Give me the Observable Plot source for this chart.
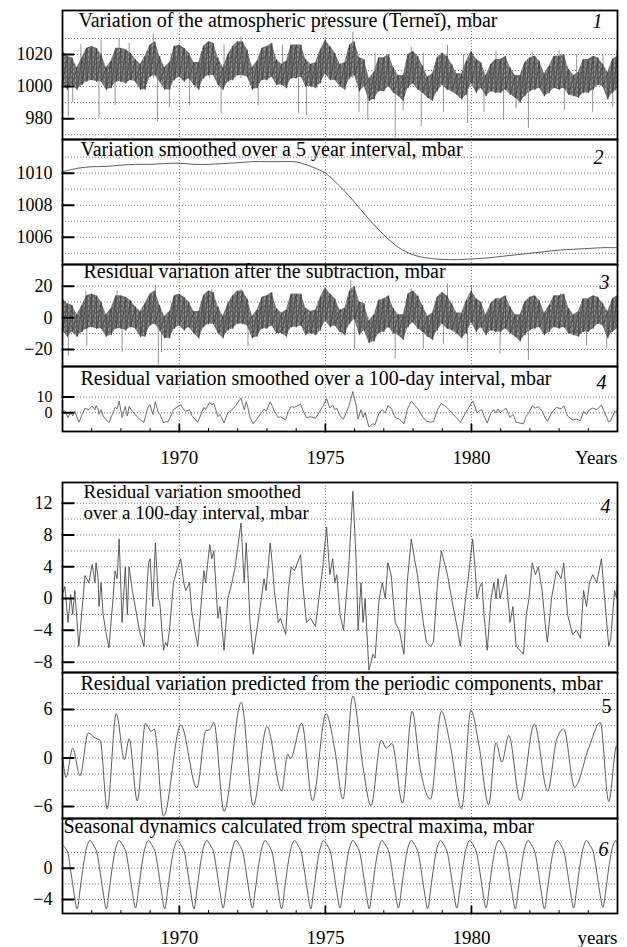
<!DOCTYPE html>
<html><head><meta charset="utf-8">
<script src="https://cdn.jsdelivr.net/npm/d3@7"></script>
<script src="https://cdn.jsdelivr.net/npm/@observablehq/plot@0.6"></script>
<style>
body{margin:0;background:#fff;}
#chart{position:relative;width:627px;height:947px;}
#chart svg{position:absolute;left:0;}
#chart g[aria-label="condensed-title"] text{letter-spacing:-0.75px;}
</style></head><body>
<svg width="0" height="0" style="position:absolute;left:0;top:0"><defs>
<pattern id="streaks" width="11" height="5" patternUnits="userSpaceOnUse">
<rect x="0.5" y="0" width="0.7" height="3" fill="#fff" opacity="0.6"/>
<rect x="2.6" y="2" width="0.6" height="3" fill="#fff" opacity="0.45"/>
<rect x="4.8" y="0.5" width="0.8" height="2.5" fill="#fff" opacity="0.55"/>
<rect x="7.1" y="2.5" width="0.6" height="2.5" fill="#fff" opacity="0.5"/>
<rect x="9.2" y="1" width="0.7" height="3" fill="#fff" opacity="0.45"/>
</pattern></defs></svg>
<div id="chart"></div>
<script>
// ---------- DATA ----------
const xDomain = [1966, 1985];
const minorYears = [1967,1968,1969,1971,1972,1973,1974,1976,1977,1978,1979,1981,1982,1983,1984];
const majorYears = [1970, 1975, 1980];

// Panel 1 & 3: envelope of the daily series (every 2 months)
const bandT = [
1966,1966.17,1966.33,1966.5,1966.67,1966.83,1967,1967.17,1967.33,1967.5,1967.67,1967.83,
1968,1968.17,1968.33,1968.5,1968.67,1968.83,1969,1969.17,1969.33,1969.5,1969.67,1969.83,
1970,1970.17,1970.33,1970.5,1970.67,1970.83,1971,1971.17,1971.33,1971.5,1971.67,1971.83,
1972,1972.17,1972.33,1972.5,1972.67,1972.83,1973,1973.17,1973.33,1973.5,1973.67,1973.83,
1974,1974.17,1974.33,1974.5,1974.67,1974.83,1975,1975.17,1975.33,1975.5,1975.67,1975.83,
1976,1976.17,1976.33,1976.5,1976.67,1976.83,1977,1977.17,1977.33,1977.5,1977.67,1977.83,
1978,1978.17,1978.33,1978.5,1978.67,1978.83,1979,1979.17,1979.33,1979.5,1979.67,1979.83,
1980,1980.17,1980.33,1980.5,1980.67,1980.83,1981,1981.17,1981.33,1981.5,1981.67,1981.83,
1982,1982.17,1982.33,1982.5,1982.67,1982.83,1983,1983.17,1983.33,1983.5,1983.67,1983.83,
1984,1984.17,1984.33,1984.5,1984.67,1984.83,1985];
const p1Hi = [
1022,1019,1018,1012,1018,1024, 1025,1024,1020,1012,1016,1024, 1024,1023,1021,1017,1014,1019,
1026,1028,1019,1012,1015,1025, 1026,1024,1021,1015,1015,1025, 1028,1027,1018,1012,1020,1025,
1028,1028,1023,1012,1016,1024, 1025,1027,1017,1014,1016,1026, 1026,1026,1017,1014,1015,1023,
1029,1025,1021,1014,1015,1026, 1028,1018,1017,1005,1009,1018, 1018,1020,1012,1007,1007,1020,
1022,1019,1013,1006,1008,1018, 1021,1019,1014,1008,1008,1016, 1022,1017,1015,1007,1014,1017,
1017,1019,1012,1007,1007,1015, 1018,1019,1016,1008,1013,1019, 1019,1020,1011,1007,1009,1017,
1017,1019,1018,1014,1009,1017, 1019];
const p1Lo = [
1002,998,1001,998,1001,1003, 1004,1003,1003,998,999,1003, 1003,1002,1004,1003,998,998,
1006,1007,1003,998,998,1004, 1006,1003,1005,1001,998,1005, 1007,1007,1001,998,1003,1004,
1007,1007,1006,998,999,1004, 1004,1006,1001,1001,999,1005, 1005,1006,1000,1000,999,1002,
1008,1004,1004,1000,998,1005, 1007,997,1000,991,992,997, 997,1000,996,994,991,999,
1002,998,996,993,991,997, 1001,998,997,995,992,995, 1002,996,999,994,997,996,
996,998,995,993,990,994, 997,998,999,994,996,999, 998,999,995,994,993,996,
996,998,1001,1000,992,996, 998];
const p1SpikeT = [1966.2,1967.25,1969.25,1971.43,1974.08,1974.35,1976.45,1977.39,1978.28,1979.87,1981.1,1981.95,1984.84,
1967.32,1967.94,1969.11,1971.04,1972.11,1975.0,1975.94,1977.94,1979.18,1983.0,1984.5,
1966.63,1968.28,1969.8,1971.53,1973.53,1976.7,1978.35,1979.73,1980.84,1982.08,1983.6,1984.97,
1966.35,1967.8,1969.66,1970.35,1972.7,1976.15,1977.66,1979.04,1980.43,1981.53,1983.18,1984.15];
const p1SpikeV = [981,980,978,983,983,982,979,968,975,977,979,974,987,
1029,1030,1033,1028,1031,1030,1034,1024.6,1025.6,1022.5,1020,
1026,1027,1025,1026,1026,1021,1021,1020,1022,1021,1020,1022,
990,988,987,988,988,984,985,984,984,986,985,984];

// Panel 2: 5-year smoothed pressure
const p2T = [1966,1966.5,1967,1967.5,1968,1968.5,1969,1969.5,1970,1970.5,1971,1971.5,1972,1972.5,1973,1973.5,1974,1974.3,1974.6,1975,1975.4,1975.8,1976.2,1976.6,1977,1977.4,1977.8,1978.2,1978.6,1979,1979.5,1980,1980.5,1981,1981.5,1982,1982.5,1983,1983.5,1984,1984.5,1985];
const p2V = [1010.08,1010.3,1010.4,1010.42,1010.5,1010.55,1010.55,1010.6,1010.62,1010.55,1010.55,1010.6,1010.65,1010.72,1010.72,1010.72,1010.7,1010.55,1010.35,1010.0,1009.35,1008.6,1007.75,1006.9,1006.15,1005.5,1005.05,1004.8,1004.68,1004.62,1004.6,1004.65,1004.7,1004.8,1004.9,1005.0,1005.1,1005.2,1005.25,1005.3,1005.35,1005.35];

// Panel 3: residual envelope
const p3Hi = [
12,9,8,2,8,14, 15,14,10,2,6,14, 14,13,11,7,4,9, 15,17,8,1,4,14, 15,13,10,4,4,14, 17,16,7,1,9,14,
17,17,12,1,5,13, 14,16,6,3,5,15, 15,15,6,4,5,13, 19,15,12,5,6,17, 20,10,9,-2,2,11, 12,14,6,2,2,15,
17,14,8,1,3,13, 16,14,9,3,3,11, 17,12,10,2,9,12, 12,14,7,2,2,10, 13,14,11,3,8,14, 14,15,6,2,4,12,
12,14,13,9,4,12, 14];
const p3Lo = [
-8,-12,-9,-12,-9,-7, -6,-7,-7,-12,-11,-7, -7,-8,-6,-7,-12,-12, -5,-4,-8,-13,-13,-7, -5,-8,-6,-10,-13,-6, -4,-4,-10,-13,-8,-7,
-4,-4,-5,-13,-12,-7, -7,-5,-10,-10,-12,-6, -6,-5,-11,-10,-11,-8, -2,-6,-5,-9,-11,-4, -1,-11,-8,-16,-15,-10, -9,-6,-10,-11,-14,-6,
-3,-7,-9,-12,-14,-8, -4,-7,-8,-10,-13,-10, -3,-9,-6,-11,-8,-9, -9,-7,-10,-12,-15,-11, -8,-7,-6,-11,-9,-6, -7,-6,-10,-11,-12,-9,
-9,-7,-4,-5,-13,-9, -7];
const p3SpikeT = [1966.2,1966.83,1968.04,1969.28,1969.39,1972.35,1976.0,1977.39,1978.35,1979.04,1979.87,1980.98,1981.95,1983.94,1984.63,
1966.8,1967.87,1969.18,1971.11,1972.11,1974.91,1975.87,1977.94,1979.18,1980.0,1983.05];
const p3SpikeV = [-24,-18.5,-22,-30,-22,-18.5,-20,-26,-20,-16.5,-22,-23,-27,-17.5,-19.6,
17,17,20.5,18,18,16,23.6,18,21.5,20.5,15];

// Panel 4: residual smoothed over 100 days
const p4T = [1966.0,1966.08,1966.19,1966.28,1966.35,1966.42,1966.56,1966.77,1966.90,1967.02,1967.11,1967.15,1967.22,1967.25,1967.32,1967.39,1967.5,1967.59,1967.73,1967.80,1967.87,1967.94,
1968.04,1968.15,1968.22,1968.28,1968.39,1968.49,1968.63,1968.79,1968.90,1968.95,1969.0,1969.09,1969.18,1969.28,1969.33,1969.46,1969.53,1969.59,1969.66,1969.80,1969.91,
1970.05,1970.15,1970.22,1970.35,1970.42,1970.53,1970.63,1970.84,1970.90,1971.04,1971.11,1971.18,1971.32,1971.39,1971.53,1971.66,1971.80,1971.91,
1972.11,1972.22,1972.29,1972.35,1972.42,1972.53,1972.77,1972.90,1972.97,1973.11,1973.19,1973.25,1973.39,1973.46,1973.64,1973.73,1973.83,1973.94,
1974.15,1974.22,1974.35,1974.49,1974.66,1974.91,1975.04,1975.15,1975.25,1975.32,1975.39,1975.50,1975.62,1975.80,1975.94,
1976.05,1976.12,1976.22,1976.29,1976.36,1976.49,1976.63,1976.70,1976.84,1976.95,1977.05,1977.14,1977.25,1977.39,1977.53,1977.69,1977.80,1977.94,
1978.05,1978.15,1978.35,1978.46,1978.60,1978.70,1978.84,1978.97,1979.11,1979.18,1979.32,1979.53,1979.62,1979.80,1979.87,
1980.04,1980.12,1980.19,1980.29,1980.36,1980.43,1980.54,1980.67,1980.77,1980.84,1980.91,1980.98,1981.18,1981.32,1981.42,1981.53,1981.78,1981.88,1981.97,
1982.08,1982.19,1982.29,1982.42,1982.52,1982.60,1982.74,1982.91,1983.07,1983.16,1983.29,1983.46,1983.60,1983.73,1983.84,1983.94,
1984.04,1984.15,1984.29,1984.45,1984.56,1984.70,1984.77,1984.90,1984.97,1985.0];
const p4V = [0.5,1.5,-3,0.5,-2,1,-6,2.9,2,4.3,2,4.5,2.5,-1,2,-2,-4.5,-6.2,0,3.5,2.5,7.5,
-3,4,-2,4,1,-1,-4,-6,2,4.5,5,-1,7,0,-0.5,-6.5,-5.5,-6,-4,2,3.5,
5,2,1,2,-1.5,-4,-6,3.5,2,6.8,5,6,-2.5,-1,-6.5,0,2,4,
9.5,2,7,3,-3,-7,-1,2.5,1,7,4,1,-3,-2.5,-4.5,1,4,3.5,
5.5,2,-3,-2.5,-3.5,4,9,3,5,2,3,-2,-4,4,13.5,
5,-4,2,-3,0,-9,-7,-7.5,0,2,0,4.5,3,-3,-4,-7,2,7.5,
5,3,-3,-5.5,-6,-5.5,2,6,4,3,0,-4,-6,0,2,
7.5,4,0,1.5,2,-2,-6.5,0,2,0,2.5,0,3,-3,-1,-6,-7,-2,0,
4.5,3,4,1,-3,-5.5,0,3.5,2.5,4.5,-2,-4.5,-4,-5,1,-1,
2,3,2,5,0,-6,-5,1,0,3];

// Panel 5: predicted from periodic components
const p5T = [1966.01,1966.12,1966.35,1966.60,1966.88,1967.11,1967.29,1967.53,1967.84,1968.12,1968.28,1968.56,1968.84,1969.04,1969.14,1969.46,1970.05,1970.60,1970.91,1971.04,1971.18,1971.53,1972.12,1972.53,1973.00,1973.50,1973.71,1973.80,1974.19,1974.56,1975.02,1975.32,1975.60,1975.94,1976.29,1976.56,1976.91,1977.09,1977.28,1977.64,1977.97,1978.24,1978.60,1978.97,1979.29,1979.66,1979.98,1980.26,1980.59,1980.84,1981.04,1981.28,1981.67,1982.15,1982.61,1982.91,1983.16,1983.53,1984.02,1984.41,1984.70,1984.97,1985.0];
const p5V = [0,-2.4,1.2,-2.2,3.1,2.5,2.2,-6.3,5.5,-0.2,2.4,-5.3,4.3,3.3,3.6,-7.2,4.1,-3.7,3.4,3.5,4.4,-6.6,6.9,-5.9,3.9,-4.1,0.5,-0.1,4.3,-5.3,5.5,1.1,-5.1,7.7,-1.2,-5.9,2.2,1.2,1.8,-5.6,5.8,-1.2,-5.1,5.8,1.3,-6.3,5.9,1.5,-5.8,1.9,-0.5,2.8,-5.3,4.2,-4.1,2.2,3.6,-3.6,1.3,4.4,-5.4,1.5,1.0];

// Panel 6: seasonal dynamics from spectral maxima
const p6T = [1966.00,1966.16,1966.26,1966.38,
1966.50,1966.60,1966.72,1966.84,1966.94,1967.05,1967.16,1967.26,1967.38,
1967.50,1967.60,1967.72,1967.84,1967.94,1968.05,1968.16,1968.26,1968.38,
1968.50,1968.60,1968.72,1968.84,1968.94,1969.05,1969.16,1969.26,1969.38,
1969.50,1969.60,1969.72,1969.84,1969.94,1970.05,1970.16,1970.26,1970.38,
1970.50,1970.60,1970.72,1970.84,1970.94,1971.05,1971.16,1971.26,1971.38,
1971.50,1971.60,1971.72,1971.84,1971.94,1972.05,1972.16,1972.26,1972.38,
1972.50,1972.60,1972.72,1972.84,1972.94,1973.05,1973.16,1973.26,1973.38,
1973.50,1973.60,1973.72,1973.84,1973.94,1974.05,1974.16,1974.26,1974.38,
1974.50,1974.60,1974.72,1974.84,1974.94,1975.05,1975.16,1975.26,1975.38,
1975.50,1975.60,1975.72,1975.84,1975.94,1976.05,1976.16,1976.26,1976.38,
1976.50,1976.60,1976.72,1976.84,1976.94,1977.05,1977.16,1977.26,1977.38,
1977.50,1977.60,1977.72,1977.84,1977.94,1978.05,1978.16,1978.26,1978.38,
1978.50,1978.60,1978.72,1978.84,1978.94,1979.05,1979.16,1979.26,1979.38,
1979.50,1979.60,1979.72,1979.84,1979.94,1980.05,1980.16,1980.26,1980.38,
1980.50,1980.60,1980.72,1980.84,1980.94,1981.05,1981.16,1981.26,1981.38,
1981.50,1981.60,1981.72,1981.84,1981.94,1982.05,1982.16,1982.26,1982.38,
1982.50,1982.60,1982.72,1982.84,1982.94,1983.05,1983.16,1983.26,1983.38,
1983.50,1983.60,1983.72,1983.84,1983.94,1984.05,1984.16,1984.26,1984.38,
1984.50,1984.60,1984.72,1984.84,1984.94,1985.00];
const p6V = [3.0,2.2,0.2,-2.8,
-5.2,-2.8,0.5,2.8,3.55,3.0,2.2,0.2,-2.8,
-5.2,-2.8,0.5,2.8,3.55,3.0,2.2,0.2,-2.8,
-5.1,-2.8,0.5,2.8,3.55,3.0,2.2,0.2,-2.8,
-5.2,-2.8,0.5,2.8,3.55,3.0,2.2,0.2,-2.8,
-5.2,-2.8,0.5,2.8,3.55,3.0,2.2,0.2,-2.8,
-5.1,-2.8,0.5,2.8,3.55,3.0,2.2,0.2,-2.8,
-5.1,-2.8,0.5,2.8,3.55,3.0,2.2,0.2,-2.8,
-5.2,-2.8,0.5,2.8,3.55,3.0,2.2,0.2,-2.8,
-5.2,-2.8,0.5,2.8,3.55,3.0,2.2,0.2,-2.8,
-5.1,-2.8,0.5,2.8,3.55,3.0,2.2,0.2,-2.8,
-5.2,-2.8,0.5,2.8,3.55,3.0,2.2,0.2,-2.8,
-5.1,-2.8,0.5,2.8,3.55,3.0,2.2,0.2,-2.8,
-5.2,-2.8,0.5,2.8,3.55,3.0,2.2,0.2,-2.8,
-5.1,-2.8,0.5,2.8,3.55,3.0,2.2,0.2,-2.8,
-5.1,-2.8,0.5,2.8,3.55,3.0,2.2,0.2,-2.8,
-5.2,-2.8,0.5,2.8,3.55,3.0,2.2,0.2,-2.8,
-5.2,-2.8,0.5,2.8,3.55,3.0,2.2,0.2,-2.8,
-5.1,-2.8,0.5,2.8,3.55,3.0,2.2,0.2,-2.8,
-5.0,-2.8,0.5,2.8,3.55,3.1];

// Titles
const titles = {
  p1: "Variation of the atmospheric pressure (Terneĭ), mbar",
  p2: "Variation smoothed over a 5 year interval, mbar",
  p3: "Residual variation after the subtraction, mbar",
  p4: "Residual variation smoothed over a 100-day interval, mbar",
  p4b: "Residual variation smoothed\nover a 100-day interval, mbar",
  p5: "Residual variation predicted from the periodic components, mbar",
  p6: "Seasonal dynamics calculated from spectral maxima, mbar"
};

// ---------- TABLES ----------
const band = bandT.map((t, i) => ({t, hi1: p1Hi[i], lo1: p1Lo[i], hi3: p3Hi[i], lo3: p3Lo[i]}));
const p1Spikes = p1SpikeT.map((t, i) => ({t, v: p1SpikeV[i]}));
const p3Spikes = p3SpikeT.map((t, i) => ({t, v: p3SpikeV[i]}));
const p2 = p2T.map((t, i) => ({t, v: p2V[i]}));
const p4 = p4T.map((t, i) => ({t, v: p4V[i]}));
const p5 = p5T.map((t, i) => ({t, v: p5V[i]}));
const p6 = p6T.map((t, i) => ({t, v: p6V[i]}));
const zig1 = band.flatMap(d => [{t: d.t, v: d.hi1}, {t: d.t, v: d.lo1}]);
const zig3 = band.flatMap(d => [{t: d.t, v: d.hi3}, {t: d.t, v: d.lo3}]);

// ---------- DRAWING ----------
const FONT = '"Liberation Serif","Times New Roman",serif';
const fmt = d => d < 0 ? "\u2212" + Math.abs(d) : String(d);
const gridStyle = {stroke: "#555", strokeWidth: 0.8, strokeDasharray: "1,2"};
const tickShape = {draw(ctx, l) { ctx.moveTo(0, 0); ctx.lineTo(0, -l); }};

function panel({top, bottom, yDomain, yGrid, yTicks, marks, title, titleDx = 16, titleDy = 3, titleSize = 20, titleLH = 1.0, titleLabel = "title", num, numDx, numDy, numItalic = true, xLabels = null, xLabelDy = 26, yFont = 18}) {
  const mt = 2, mb = xLabels ? 50 : 2;
  const all = [
    Plot.ruleY(yGrid, {y: d => d, ...gridStyle}),
    Plot.ruleX(majorYears, {x: d => d, ...gridStyle}),
    ...marks,
    Plot.vector(yTicks, {y: d => d, frameAnchor: "left", rotate: 90, length: 11, anchor: "start", shape: tickShape, stroke: "black", strokeWidth: 2}),
    Plot.axisY({ticks: yTicks, tickSize: 0, tickPadding: 10, tickFormat: fmt, fontSize: yFont, label: null}),
    Plot.text([title], {text: d => d, frameAnchor: "top-left", dx: titleDx, dy: titleDy, lineAnchor: "top", textAnchor: "start", fontSize: titleSize, lineHeight: titleLH, ariaLabel: titleLabel}),
    Plot.text([num], {text: d => d, frameAnchor: "top-right", dx: numDx, dy: numDy, lineAnchor: "top", textAnchor: "end", fontSize: 20, fontStyle: numItalic ? "italic" : "normal"})
  ];
  if (xLabels) {
    all.push(
      Plot.vector(minorYears, {x: d => d, frameAnchor: "bottom", rotate: 0, length: 3, anchor: "start", shape: tickShape, stroke: "black", strokeWidth: 1}),
      Plot.vector(majorYears, {x: d => d, frameAnchor: "bottom", rotate: 0, length: 7, anchor: "start", shape: tickShape, stroke: "black", strokeWidth: 1.8}),
      Plot.text(majorYears, {x: d => d, text: d => String(d), frameAnchor: "bottom", dy: xLabelDy, lineAnchor: "middle", fontSize: 19}),
      Plot.text([xLabels], {text: d => d, frameAnchor: "bottom-right", dy: xLabelDy, lineAnchor: "middle", textAnchor: "end", fontSize: 19})
    );
  }
  all.push(Plot.frame({stroke: "black", strokeWidth: 1.8}));
  const svg = Plot.plot({
    width: 627, height: bottom - top + mt + mb,
    marginLeft: 62, marginRight: 10, marginTop: mt, marginBottom: mb,
    style: {fontFamily: FONT, fontSize: "18px", background: "transparent", overflow: "visible", color: "black"},
    x: {domain: xDomain, axis: null},
    y: {domain: yDomain, axis: null},
    marks: all
  });
  svg.style.top = (top - mt) + "px";
  document.getElementById("chart").appendChild(svg);
}

const lineStyle = {x: "t", y: "v", stroke: "#4a4a4a", strokeWidth: 0.9, clip: true};

panel({top: 10, bottom: 139, yDomain: [967, 1047.5], yGrid: [970,980,990,1000,1010,1020,1030], yTicks: [980,1000,1020],
  title: titles.p1, titleDx: 16, titleDy: 2, num: "1", numDx: -15, numDy: 3,
  marks: [
    Plot.ruleX(p1Spikes, {x: "t", y1: 1005, y2: "v", stroke: "#666", strokeWidth: 0.7, clip: true}),
    Plot.areaY(band, {x: "t", y1: "lo1", y2: "hi1", fill: "#6a6a6a", clip: true}),
    Plot.areaY(band, {x: "t", y1: "lo1", y2: "hi1", fill: "url(#streaks)", clip: true}),
    Plot.line(zig1, {x: "t", y: "v", stroke: "#333", strokeWidth: 0.6, clip: true})
  ]});

panel({top: 139, bottom: 264, yDomain: [1004.3, 1012.1], yGrid: [1005,1006,1007,1008,1009,1010,1011], yTicks: [1006,1008,1010],
  title: titles.p2, titleDx: 18, titleDy: 2, num: "2", numDx: -14, numDy: 10,
  marks: [Plot.line(p2, {...lineStyle, curve: "catmull-rom"})]});

panel({top: 264, bottom: 366, yDomain: [-30.8, 33.7], yGrid: [-20,-10,0,10,20], yTicks: [-20,0,20],
  title: titles.p3, titleDx: 21, titleDy: -1, num: "3", numDx: -8, numDy: 10,
  marks: [
    Plot.ruleX(p3Spikes, {x: "t", y1: 0, y2: "v", stroke: "#666", strokeWidth: 0.7, clip: true}),
    Plot.areaY(band, {x: "t", y1: "lo3", y2: "hi3", fill: "#6a6a6a", clip: true}),
    Plot.areaY(band, {x: "t", y1: "lo3", y2: "hi3", fill: "url(#streaks)", clip: true}),
    Plot.line(zig3, {x: "t", y: "v", stroke: "#333", strokeWidth: 0.6, clip: true})
  ]});

panel({top: 366, bottom: 431, yDomain: [-11.9, 29.5], yGrid: [0,10], yTicks: [0,10], yFont: 16,
  title: titles.p4, titleDx: 18, titleDy: 4, num: "4", numDx: -11, numDy: 8,
  xLabels: "Years", xLabelDy: 26,
  marks: [Plot.line(p4, {...lineStyle, strokeWidth: 0.8})]});

panel({top: 482, bottom: 672, yDomain: [-9.3, 14.6], yGrid: [-8,-6,-4,-2,0,2,4,6,8,10,12], yTicks: [-8,-4,0,4,8,12],
  title: titles.p4b, titleDx: 21, titleDy: 1, titleSize: 19, titleLH: 1.08, num: "4", numDx: -7, numDy: 16,
  marks: [Plot.line(p4, {...lineStyle})]});

panel({top: 672, bottom: 818, yDomain: [-7.5, 10.6], yGrid: [-6,-4,-2,0,2,4,6,8], yTicks: [-6,0,6],
  title: titles.p5, titleDx: 18, titleDy: 3, num: "5", numDx: -6, numDy: 26, numItalic: false,
  marks: [Plot.line(p5, {...lineStyle, curve: "monotone-x"})]});

panel({top: 818, bottom: 913, yDomain: [-5.8, 6.35], yGrid: [-4,-2,0,2], yTicks: [-4,0],
  title: titles.p6, titleDx: 1, titleDy: 0, titleLabel: "condensed-title", num: "6", numDx: -9, numDy: 23,
  xLabels: "years", xLabelDy: 24,
  marks: [Plot.line(p6, {...lineStyle, curve: "catmull-rom"})]});
</script>
</body></html>
